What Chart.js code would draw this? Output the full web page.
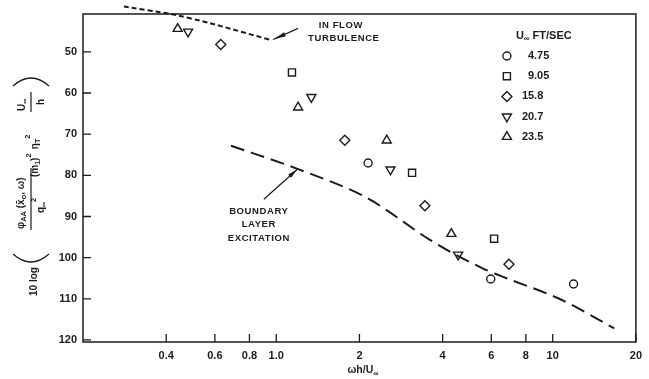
<!DOCTYPE html>
<html>
<head>
<meta charset="utf-8">
<script src="https://cdn.jsdelivr.net/npm/chart.js@4.4.1/dist/chart.umd.min.js"></script>
<style>
  html, body { margin: 0; padding: 0; background: #fff; }
  canvas { display: block; }
</style>
</head>
<body>
<canvas id="chart" width="649" height="379"></canvas>
<script>
// free-stream speeds, ft/sec (one marker series each)
const speeds = ['4.75', '9.05', '15.8', '20.7', '23.5']

// omega h / U  and  10 log(...)
const circleX = [2.15, 5.97, 11.9]
const circleY = [77.0, 105.2, 106.4]
const squareX = [1.14, 3.10, 6.14]
const squareY = [55.0, 79.4, 95.4]
const diamondX = [0.63, 1.77, 3.45, 6.95]
const diamondY = [48.2, 71.5, 87.4, 101.6]
const downTriX = [0.48, 1.34, 2.59, 4.55]
const downTriY = [45.1, 61.0, 78.6, 99.3]
const upTriX = [0.44, 1.20, 2.51, 4.30]
const upTriY = [44.4, 63.5, 71.5, 94.2]

// predicted curves
const inflowX = [0.281, 0.413, 0.574, 0.965]
const inflowY = [39.0, 40.75, 43.0, 47.2]
const boundaryX = [0.686, 1.2, 2.08, 2.45, 3.6, 5.58, 6.58, 10.8, 16.7]
const boundaryY = [72.8, 78.5, 85.1, 88.0, 95.7, 102.6, 104.6, 110.3, 117.2]

// axes
const xTicks = [0.4, 0.6, 0.8, 1.0, 2, 4, 6, 8, 10, 20]
const xTickLabels = ['0.4', '0.6', '0.8', '1.0', '2', '4', '6', '8', '10', '20']
const yTicks = [50, 60, 70, 80, 90, 100, 110, 120]

const ink = '#1b1b1b'
const fam = '"Liberation Sans", Arial, sans-serif'

const pts = (xs, ys) => xs.map((v, i) => ({ x: v, y: ys[i] }))

const markerStyles = [
  { pointStyle: 'circle', radius: 4, rotation: 0 },
  { pointStyle: 'rect', radius: 5, rotation: 0 },
  { pointStyle: 'rectRot', radius: 5, rotation: 0 },
  { pointStyle: 'triangle', radius: 5.2, rotation: 180 },
  { pointStyle: 'triangle', radius: 5.2, rotation: 0 }
]
const seriesData = [
  pts(circleX, circleY),
  pts(squareX, squareY),
  pts(diamondX, diamondY),
  pts(downTriX, downTriY),
  pts(upTriX, upTriY)
]

// draw a row of text pieces: [text, size, dy]
function runs(ctx, parts, x, y) {
  for (const [t, size, dy] of parts) {
    ctx.font = `bold ${size}px ${fam}`
    ctx.fillText(t, x, y + (dy || 0))
    x += ctx.measureText(t).width
  }
  return x
}
function runsWidth(ctx, parts) {
  let w = 0
  for (const [t, size] of parts) {
    ctx.font = `bold ${size}px ${fam}`
    w += ctx.measureText(t).width
  }
  return w
}
function centered(ctx, parts, cx, y) {
  return runs(ctx, parts, cx - runsWidth(ctx, parts) / 2, y)
}

function arrow(ctx, x0, y0, x1, y1, headLen, headW) {
  ctx.beginPath()
  ctx.moveTo(x0, y0)
  ctx.lineTo(x1, y1)
  ctx.stroke()
  const a = Math.atan2(y1 - y0, x1 - x0)
  const bx = x1 - Math.cos(a) * headLen
  const by = y1 - Math.sin(a) * headLen
  ctx.beginPath()
  ctx.moveTo(x1, y1)
  ctx.lineTo(bx - Math.sin(a) * headW, by + Math.cos(a) * headW)
  ctx.lineTo(bx + Math.sin(a) * headW, by - Math.cos(a) * headW)
  ctx.closePath()
  ctx.fill()
}

const frame = {
  id: 'frame',
  afterDraw(chart) {
    const { ctx, chartArea: a, scales: { x, y } } = chart
    ctx.save()
    ctx.strokeStyle = ink
    ctx.lineWidth = 1.5
    ctx.strokeRect(a.left, a.top, a.right - a.left, a.bottom - a.top)
    ctx.lineWidth = 1.3
    ctx.beginPath()
    xTicks.forEach(v => {
      const px = x.getPixelForValue(v)
      ctx.moveTo(px, a.bottom)
      ctx.lineTo(px, a.bottom - 8)
    })
    yTicks.forEach(v => {
      const py = y.getPixelForValue(v)
      ctx.moveTo(a.left, py)
      ctx.lineTo(a.left + 8, py)
    })
    ctx.stroke()
    ctx.restore()
  }
}

const annotations = {
  id: 'annotations',
  afterDatasetsDraw(chart) {
    const { ctx, scales: { x, y }, chartArea: a } = chart
    const P = (xv, yv) => [x.getPixelForValue(xv), y.getPixelForValue(yv)]
    ctx.save()
    ctx.fillStyle = ink
    ctx.strokeStyle = ink
    ctx.lineWidth = 1.2
    ctx.textBaseline = 'middle'
    ctx.letterSpacing = '0.6px'

    // in-flow turbulence label and arrow
    let [tx, ty] = P(1.2, 44.3)
    let [hx, hy] = P(0.975, 47.0)
    arrow(ctx, tx, ty, hx, hy, 13, 2.2)
    let [cx, cy] = P(1.713, 43.6)
    centered(ctx, [['IN FLOW', 9.5]], cx, cy)
    ;[cx, cy] = P(1.756, 46.8)
    centered(ctx, [['TURBULENCE', 9.5]], cx, cy)

    // boundary layer label and arrow
    ;[tx, ty] = P(0.902, 85.8)
    ;[hx, hy] = P(1.19, 78.6)
    arrow(ctx, tx, ty, hx, hy, 10, 2.2)
    ;[cx, cy] = P(0.865, 88.8)
    centered(ctx, [['BOUNDARY', 9.5]], cx, cy)
    ;[cx, cy] = P(0.865, 92.0)
    centered(ctx, [['LAYER', 9.5]], cx, cy)
    ;[cx, cy] = P(0.865, 95.2)
    centered(ctx, [['EXCITATION', 9.5]], cx, cy)
    ctx.letterSpacing = '0px'

    // legend
    const symX = a.right - 129
    const valX = a.right - 114
    const rowY = a.top + 42
    const rowH = 20.2
    runs(ctx, [['U', 11], ['\u221e', 8, 3], [' FT/SEC', 11]], symX + 9, rowY - rowH)
    ctx.lineWidth = 1.4
    speeds.forEach((s, i) => {
      const yy = rowY + i * rowH
      ctx.fillStyle = '#fff'
      Chart.helpers.drawPoint(ctx, { ...markerStyles[i], borderWidth: 1.4 }, symX, yy)
      ctx.fillStyle = ink
      runs(ctx, [[s, 11]], s.length === 4 && s[1] === '.' ? valX + 6 : valX, yy)
    })
    ctx.restore()
  }
}

const axisTitles = {
  id: 'axisTitles',
  afterDraw(chart) {
    const { ctx } = chart
    ctx.save()
    ctx.fillStyle = ink
    ctx.strokeStyle = ink
    ctx.textBaseline = 'alphabetic'

    // x title: omega h / U-infinity
    centered(ctx, [['\u03c9h/U', 10.5], ['\u221e', 7.5, 2.5]], 363, 373)

    // y title, rotated, reading upward
    ctx.translate(0, 300)
    ctx.rotate(-Math.PI / 2)
    ctx.lineWidth = 1.2
    runs(ctx, [['10 log', 10]], 4, 37)
    // big parentheses
    ctx.beginPath()
    ctx.moveTo(46, 13)
    ctx.quadraticCurveTo(30, 31, 46, 49)
    ctx.moveTo(214, 13)
    ctx.quadraticCurveTo(230, 31, 214, 49)
    ctx.stroke()
    // phi_AA(x_o, omega) / q^2
    runs(ctx, [['\u03c6', 10], ['AA', 7.5, 2], [' (x\u0304', 10], ['o', 7.5, 2], [', \u03c9)', 10]], 71, 24)
    ctx.beginPath()
    ctx.moveTo(70, 31)
    ctx.lineTo(132, 31)
    ctx.stroke()
    runs(ctx, [['q', 10], ['\u221e', 7, 2], ['2', 7.5, -8]], 87, 44)
    // (m1)^2 eta_T^2
    runs(ctx, [['(m', 10], ['1', 7, 2], [')', 10], ['2', 7.5, -7]], 123, 38)
    runs(ctx, [[' \u03b7', 10], ['T', 7, 2], ['2', 7.5, -8]], 148, 38)
    // U/h
    runs(ctx, [['U', 10], ['\u221e', 7, 2]], 189, 25)
    ctx.beginPath()
    ctx.moveTo(188, 31)
    ctx.lineTo(208, 31)
    ctx.stroke()
    runs(ctx, [['h', 10]], 195, 44)
    ctx.restore()
  }
}

const lineBase = { showLine: true, pointRadius: 0, borderColor: ink, borderWidth: 2, fill: false, clip: false }

new Chart(document.getElementById('chart'), {
  type: 'scatter',
  data: {
    datasets: [
      ...speeds.map((s, i) => ({
        label: s + ' ft/sec',
        data: seriesData[i],
        pointStyle: markerStyles[i].pointStyle,
        pointRadius: markerStyles[i].radius,
        pointRotation: markerStyles[i].rotation,
        pointBorderWidth: 1.4,
        borderColor: ink,
        backgroundColor: 'rgba(255,255,255,0)'
      })),
      { ...lineBase, label: 'inflow turbulence', data: pts(inflowX, inflowY), borderDash: [5, 3], tension: 0.2 },
      { ...lineBase, label: 'boundary layer excitation', data: pts(boundaryX, boundaryY), borderDash: [14, 7], cubicInterpolationMode: 'monotone' }
    ]
  },
  options: {
    responsive: false,
    animation: false,
    devicePixelRatio: 1,
    layout: { padding: { top: 14, right: 8, left: 0, bottom: 0 } },
    plugins: { legend: { display: false }, tooltip: { enabled: false } },
    scales: {
      x: {
        type: 'logarithmic',
        min: 0.2,
        max: 20,
        afterBuildTicks: s => { s.ticks = xTicks.map(v => ({ value: v })) },
        afterFit: s => { s.height = 37 },
        ticks: {
          autoSkip: false,
          maxRotation: 0,
          padding: 7,
          color: ink,
          font: { family: fam, size: 11, weight: 'bold' },
          callback: (v, i) => xTickLabels[i]
        },
        grid: { display: false, drawTicks: false },
        border: { display: false }
      },
      y: {
        type: 'linear',
        reverse: true,
        min: 40.8,
        max: 120.5,
        afterBuildTicks: s => { s.ticks = yTicks.map(v => ({ value: v })) },
        afterFit: s => { s.width = 83 },
        ticks: {
          padding: 6,
          color: ink,
          font: { family: fam, size: 11, weight: 'bold' }
        },
        grid: { display: false, drawTicks: false },
        border: { display: false }
      }
    }
  },
  plugins: [frame, annotations, axisTitles]
})
</script>
</body>
</html>
